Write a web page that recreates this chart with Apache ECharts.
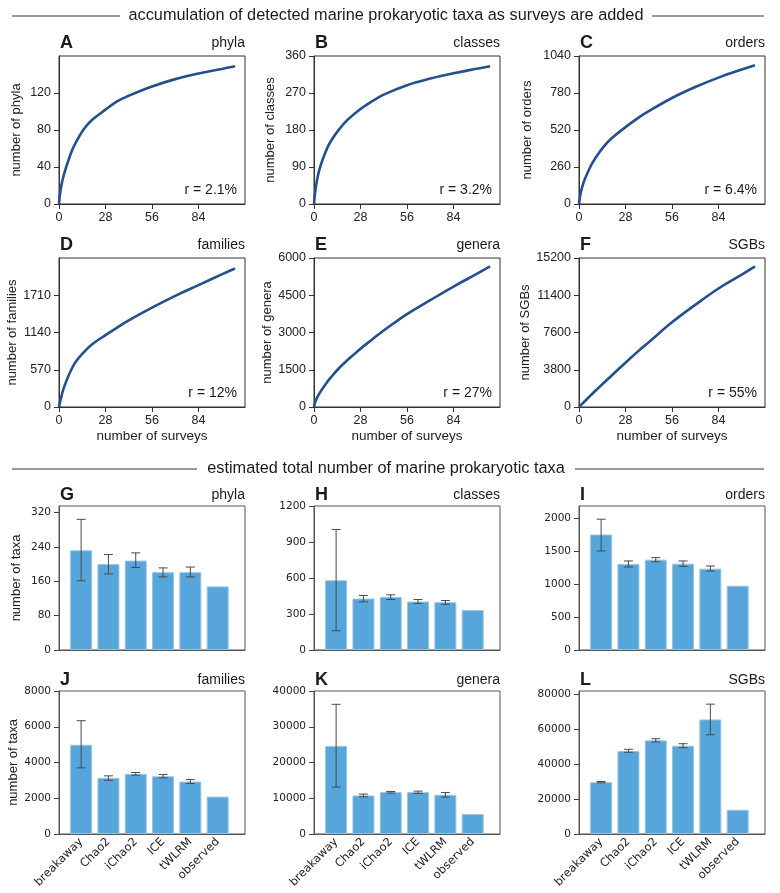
<!DOCTYPE html>
<html>
<head>
<meta charset="utf-8">
<script src="https://cdn.jsdelivr.net/npm/echarts@6.0.0/dist/echarts.min.js"></script>
<style>
  html, body { margin: 0; padding: 0; background: #fff; }
  #main { width: 780px; height: 893px; }
</style>
</head>
<body>
<div id="main"></div>
<script>
// accumulation curves
var surveys = [0, 1, 3, 7, 10, 15, 20, 28, 35, 42, 56, 70, 84, 98, 106];
var phyla = [0, 16, 32, 54, 66, 81, 91, 102, 111, 117, 127, 135, 141, 146, 149];
var classes = [0, 38, 80, 127, 152, 181, 204, 231, 250, 266, 289, 305, 318, 329, 335];
var orders = [0, 75, 160, 265, 325, 405, 465, 540, 600, 652, 745, 822, 888, 945, 975];
var families = [0, 115, 300, 550, 690, 840, 960, 1100, 1215, 1325, 1520, 1700, 1865, 2030, 2120];
var genera = [0, 250, 520, 920, 1180, 1560, 1880, 2350, 2720, 3080, 3740, 4300, 4850, 5360, 5660];
var sgbs = [0, 170, 510, 1180, 1680, 2470, 3270, 4520, 5600, 6610, 8640, 10420, 12090, 13500, 14340];

var surveyTicks = [0, 28, 56, 84];
var phylaTicks = [0, 40, 80, 120];
var classesTicks = [0, 90, 180, 270, 360];
var ordersTicks = [0, 260, 520, 780, 1040];
var familiesTicks = [0, 570, 1140, 1710];
var generaTicks = [0, 1500, 3000, 4500, 6000];
var sgbsTicks = [0, 3800, 7600, 11400, 15200];

// estimated totals
var methods = ['breakaway', 'Chao2', 'iChao2', 'ICE', 'tWLRM', 'observed'];
var phylaEst = [232, 200, 208, 181, 181, 148];
var phylaLow = [161, 177, 192, 170, 170, null];
var phylaHigh = [304, 222, 226, 191, 193, null];
var classesEst = [581, 429, 443, 404, 398, 333];
var classesLow = [160, 401, 421, 387, 381, null];
var classesHigh = [1004, 454, 460, 421, 412, null];
var ordersEst = [1748, 1302, 1368, 1307, 1231, 973];
var ordersLow = [1500, 1257, 1337, 1266, 1196, null];
var ordersHigh = [1980, 1348, 1398, 1348, 1272, null];
var familiesEst = [4992, 3140, 3365, 3232, 2934, 2093];
var familiesLow = [3700, 3006, 3290, 3140, 2822, null];
var familiesHigh = [6338, 3253, 3440, 3326, 3046, null];
var generaEst = [24640, 10780, 11720, 11720, 10970, 5580];
var generaLow = [13120, 10420, 11440, 11340, 10330, null];
var generaHigh = [36280, 11160, 11900, 12000, 11620, null];
var sgbsEst = [29700, 47600, 53700, 50630, 65710, 13890];
var sgbsLow = [29330, 46860, 52740, 49490, 56910, null];
var sgbsHigh = [30080, 48570, 54630, 51770, 74460, null];

var taxaTicksG = [0, 80, 160, 240, 320];
var taxaTicksH = [0, 300, 600, 900, 1200];
var taxaTicksI = [0, 500, 1000, 1500, 2000];
var taxaTicksJ = [0, 2000, 4000, 6000, 8000];
var taxaTicksK = [0, 10000, 20000, 30000, 40000];
var taxaTicksL = [0, 20000, 40000, 60000, 80000];

var colLeft = [59, 314, 579];
var colW = 186;
var curveRows = [{ top: 56, h: 148 }, { top: 258, h: 149 }];
var barRows = [{ top: 506, h: 144 }, { top: 691, h: 143 }];

var curvePanels = [
    { letter: 'A', name: 'phyla', y: phyla, ticks: phylaTicks, max: 160, r: 'r = 2.1%', gap: 36 },
    { letter: 'B', name: 'classes', y: classes, ticks: classesTicks, max: 360, r: 'r = 3.2%', gap: 37 },
    { letter: 'C', name: 'orders', y: orders, ticks: ordersTicks, max: 1040, r: 'r = 6.4%', gap: 45 },
    { letter: 'D', name: 'families', y: families, ticks: familiesTicks, max: 2280, r: 'r = 12%', gap: 36 },
    { letter: 'E', name: 'genera', y: genera, ticks: generaTicks, max: 6000, r: 'r = 27%', gap: 35 },
    { letter: 'F', name: 'SGBs', y: sgbs, ticks: sgbsTicks, max: 15200, r: 'r = 55%', gap: 42 }
];
var barPanels = [
    { letter: 'G', name: 'phyla', est: phylaEst, lo: phylaLow, hi: phylaHigh, ticks: taxaTicksG, max: 335 },
    { letter: 'H', name: 'classes', est: classesEst, lo: classesLow, hi: classesHigh, ticks: taxaTicksH, max: 1200 },
    { letter: 'I', name: 'orders', est: ordersEst, lo: ordersLow, hi: ordersHigh, ticks: taxaTicksI, max: 2180 },
    { letter: 'J', name: 'families', est: familiesEst, lo: familiesLow, hi: familiesHigh, ticks: taxaTicksJ, max: 8000 },
    { letter: 'K', name: 'genera', est: generaEst, lo: generaLow, hi: generaHigh, ticks: taxaTicksK, max: 40000 },
    { letter: 'L', name: 'SGBs', est: sgbsEst, lo: sgbsLow, hi: sgbsHigh, ticks: taxaTicksL, max: 82000 }
];

var sans = 'Liberation Sans, Arial, Helvetica, sans-serif';
var dvu = 'DejaVu Sans, sans-serif';
var plain = function (v) { return String(v); };

var grids = [], xAxes = [], yAxes = [], series = [], graphics = [];

function txt(x, y, s, font, align) {
    graphics.push({
        type: 'text', x: x, y: y, silent: true,
        style: { text: s, font: font, fill: '#1a1a1a', textAlign: align || 'left', textVerticalAlign: 'middle' }
    });
}
function hline(x1, x2, y) {
    graphics.push({
        type: 'line', silent: true,
        shape: { x1: x1, y1: y, x2: x2, y2: y },
        style: { stroke: '#333', lineWidth: 1 }
    });
}

// section headers
hline(12, 120, 16);
hline(652, 764, 16);
txt(386, 16, 'accumulation of detected marine prokaryotic taxa as surveys are added', '16.3px ' + sans, 'center');
hline(12, 197, 469);
hline(575, 764, 469);
txt(386, 469, 'estimated total number of marine prokaryotic taxa', '16.3px ' + sans, 'center');

curvePanels.forEach(function (p, i) {
    var row = curveRows[Math.floor(i / 3)];
    var left = colLeft[i % 3];
    var bottomRow = i >= 3;
    grids.push({
        left: left, top: row.top, width: colW, height: row.h,
        show: true, borderColor: '#333', borderWidth: 1, backgroundColor: 'transparent',
        outerBoundsMode: 'none'
    });
    xAxes.push({
        gridIndex: i, type: 'value', min: 0, max: 112,
        axisLine: { show: true, onZero: false, lineStyle: { color: '#333' } },
        axisTick: { show: true, length: 5, customValues: surveyTicks, lineStyle: { color: '#333' } },
        axisLabel: { customValues: surveyTicks, formatter: plain, margin: 7, fontFamily: sans, fontSize: 12.5, color: '#222' },
        splitLine: { show: false },
        name: bottomRow ? 'number of surveys' : '',
        nameLocation: 'middle', nameGap: 22,
        nameTextStyle: { fontFamily: sans, fontSize: 13.5, color: '#222' }
    });
    yAxes.push({
        gridIndex: i, type: 'value', min: 0, max: p.max,
        axisLine: { show: true, onZero: false, lineStyle: { color: '#333' } },
        axisTick: { show: true, length: 5, customValues: p.ticks, lineStyle: { color: '#333' } },
        axisLabel: { customValues: p.ticks, formatter: plain, margin: 8, fontFamily: sans, fontSize: 12.5, color: '#222' },
        splitLine: { show: false },
        name: 'number of ' + p.name, nameLocation: 'middle', nameGap: p.gap,
        nameTextStyle: { fontFamily: sans, fontSize: 13, color: '#222' }
    });
    series.push({
        type: 'line', xAxisIndex: i, yAxisIndex: i,
        data: surveys.map(function (s, k) { return [s, p.y[k]]; }),
        smooth: 0.4, showSymbol: false, silent: true,
        lineStyle: { color: '#24508f', width: 2.6 }
    });
    var ly = row.top - 13;
    txt(left + 1, ly, p.letter, 'bold 18px ' + sans, 'left');
    txt(left + colW, ly, p.name, '14px ' + sans, 'right');
    txt(left + colW - 8, row.top + row.h - 14, p.r, '14px ' + sans, 'right');
});

function renderErr(params, api) {
    var x = api.value(0);
    var lo = api.coord([x, api.value(1)]);
    var hi = api.coord([x, api.value(2)]);
    var w = 4.5;
    var st = { stroke: '#4a4a4a', lineWidth: 1 };
    return {
        type: 'group',
        children: [
            { type: 'line', shape: { x1: lo[0], y1: lo[1], x2: hi[0], y2: hi[1] }, style: st },
            { type: 'line', shape: { x1: lo[0] - w, y1: lo[1], x2: lo[0] + w, y2: lo[1] }, style: st },
            { type: 'line', shape: { x1: hi[0] - w, y1: hi[1], x2: hi[0] + w, y2: hi[1] }, style: st }
        ]
    };
}

barPanels.forEach(function (p, j) {
    var i = j + 6;
    var row = barRows[Math.floor(j / 3)];
    var left = colLeft[j % 3];
    var bottomRow = j >= 3;
    var idx = [0, 1, 2, 3, 4, 5];
    grids.push({
        left: left, top: row.top, width: colW, height: row.h,
        show: true, borderColor: '#555', borderWidth: 1, backgroundColor: 'transparent',
        outerBoundsMode: 'none'
    });
    xAxes.push({
        gridIndex: i, type: 'value', min: -0.81, max: 6.0,
        axisLine: { show: true, onZero: false, lineStyle: { color: '#555' } },
        axisTick: { show: false },
        axisLabel: {
            show: bottomRow, customValues: idx, rotate: 45, margin: 6,
            fontFamily: dvu, fontSize: 11.5, color: '#222',
            formatter: function (v) { return methods[Math.round(v)] || ''; }
        },
        splitLine: { show: false }
    });
    yAxes.push({
        gridIndex: i, type: 'value', min: 0, max: p.max,
        axisLine: { show: true, onZero: false, lineStyle: { color: '#555' } },
        axisTick: { show: true, length: 5, customValues: p.ticks, lineStyle: { color: '#444' } },
        axisLabel: { customValues: p.ticks, formatter: plain, margin: 8, fontFamily: dvu, fontSize: 10.5, color: '#222' },
        splitLine: { show: false },
        name: j % 3 === 0 ? 'number of taxa' : '', nameLocation: 'middle', nameGap: 36,
        nameTextStyle: { fontFamily: sans, fontSize: 13, color: '#222' }
    });
    series.push({
        type: 'bar', xAxisIndex: i, yAxisIndex: i, silent: true,
        barWidth: 22,
        data: p.est.map(function (v, k) { return [k, v]; }),
        itemStyle: { color: '#56a6db', borderColor: '#9cc4df', borderWidth: 1 }
    });
    var errs = [];
    p.est.forEach(function (v, k) {
        if (p.lo[k] != null) errs.push([k, p.lo[k], p.hi[k]]);
    });
    series.push({
        type: 'custom', xAxisIndex: i, yAxisIndex: i, silent: true, z: 5,
        renderItem: renderErr, data: errs
    });
    var ly = row.top - 11;
    txt(left + 1, ly, p.letter, 'bold 18px ' + sans, 'left');
    txt(left + colW, ly, p.name, '14px ' + sans, 'right');
});

var chart = echarts.init(document.getElementById('main'));
chart.setOption({
    animation: false,
    grid: grids,
    xAxis: xAxes,
    yAxis: yAxes,
    series: series,
    graphic: graphics
});
</script>
</body>
</html>
